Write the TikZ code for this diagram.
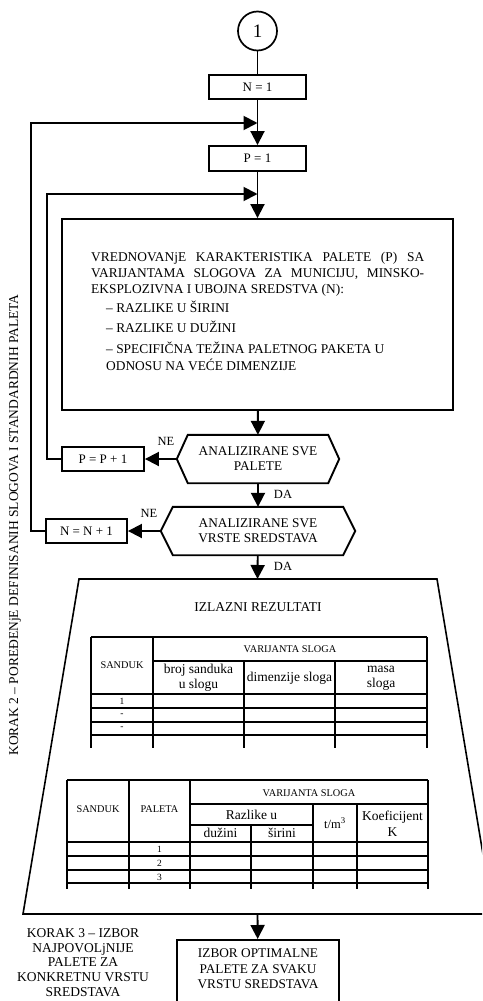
\documentclass[tikz,border=0pt]{standalone}
\usepackage{fontspec}
\setmainfont{Liberation Serif}
\usetikzlibrary{arrows.meta,calc}
\newcommand\myfs[2]{\fontsize{#1}{#2}\selectfont}
\tikzset{
 lw/.style={line width=1.9pt},
 boxn/.style={draw,line width=1.9pt,rectangle,inner sep=0pt,font=\myfs{13}{15}},
 txt/.style={inner sep=0pt,font=\myfs{13.4}{16}},
 arr/.style={line width=1.9pt,-{Triangle[length=14pt,width=14pt]}},
 tline/.style={line width=1.8pt},
 thead/.style={inner sep=0pt,font=\myfs{10.3}{12}},
 tlow/.style={inner sep=0pt,font=\myfs{13.5}{15},align=center},
 tnum/.style={inner sep=0pt,font=\myfs{9.5}{11}},
 lab/.style={inner sep=0pt,font=\myfs{12.5}{14}},
}
\begin{document}
\begin{tikzpicture}[x=1pt,y=-1pt]
\useasboundingbox (0,0) rectangle (482,1001);
\clip (0,0) rectangle (482,1001);
% top
\node[circle,draw,line width=1.7pt,minimum size=39pt,inner sep=0pt,font=\myfs{19}{20}] (c1) at (257.5,31) {1};
\node[boxn,minimum width=97pt,minimum height=24pt] (n1) at (257.5,87) {N = 1};
\node[boxn,minimum width=97pt,minimum height=25pt] (p1) at (257.5,158.5) {P = 1};
\node[boxn,minimum width=391pt,minimum height=191pt] (big) at (257.5,314.5) {};
\node[txt,anchor=base west] (b1) at (91,261) {\makebox[333pt][s]{VREDNOVANjE KARAKTERISTIKA PALETE (P) SA}};
\node[txt,anchor=base west] (b2) at (91,277) {\makebox[333pt][s]{VARIJANTAMA SLOGOVA ZA MUNICIJU, MINSKO-}};
\node[txt,anchor=base west] (b3) at (91,293) {EKSPLOZIVNA I UBOJNA SREDSTVA (N):};
\node[txt,anchor=base west] (b4) at (106,312) {– RAZLIKE U ŠIRINI};
\node[txt,anchor=base west] (b5) at (106,332) {– RAZLIKE U DUŽINI};
\node[txt,anchor=base west] (b6) at (106,353.5) {– SPECIFIČNA TEŽINA PALETNOG PAKETA U};
\node[txt,anchor=base west] (b7) at (106,370.5) {ODNOSU NA VEĆE DIMENZIJE};
% decisions
\node[txt,minimum width=162pt,minimum height=48pt,align=center,font=\myfs{13.3}{15}] (h1) at (258,459) {ANALIZIRANE SVE\\PALETE};
\draw[lw] (h1.west) -- ([xshift=11pt]h1.north west) -- ([xshift=-11pt]h1.north east) -- (h1.east) -- ([xshift=-11pt]h1.south east) -- ([xshift=11pt]h1.south west) -- cycle;
\node[boxn,minimum width=82pt,minimum height=24pt] (pp1) at (103,459) {P = P + 1};
\node[txt,minimum width=194pt,minimum height=48pt,align=center,font=\myfs{13.3}{15}] (h2) at (258,531) {ANALIZIRANE SVE\\VRSTE SREDSTAVA};
\draw[lw] (h2.west) -- ([xshift=12pt]h2.north west) -- ([xshift=-12pt]h2.north east) -- (h2.east) -- ([xshift=-12pt]h2.south east) -- ([xshift=12pt]h2.south west) -- cycle;
\node[boxn,minimum width=81pt,minimum height=24pt] (nn1) at (86.5,531) {N = N + 1};
\node[lab] (ne1) at (166,441) {NE};
\node[lab] (da1) at (283,494) {DA};
\node[lab] (ne2) at (149,513) {NE};
\node[lab] (da2) at (283,566) {DA};
% trapezoid
\coordinate (trtop) at (257.5,579);
\coordinate (trbot) at (257.5,914);
\draw[line width=1.6pt] (79,579) -- (437,579) -- (493,914) -- (23,914) -- cycle;
\node[txt,font=\myfs{13.5}{16}] (iz) at (258,607) {IZLAZNI REZULTATI};
% table 1
\draw[tline] (91,637) -- (427,637) (153,661) -- (427,661)
  (91,694) -- (427,694) (91,708) -- (427,708) (91,722) -- (427,722) (91,735) -- (427,735)
  (91,637) -- (91,748) (153,637) -- (153,748) (244,661) -- (244,748) (335,661) -- (335,748) (427,637) -- (427,748);
\node[thead] (t1s) at (122,665) {SANDUK};
\node[thead] (t1v) at (290,649) {VARIJANTA SLOGA};
\node[tlow] (t1b) at (198.5,678) {broj sanduka\\u slogu};
\node[tlow] (t1d) at (289.5,678) {dimenzije sloga};
\node[tlow] (t1m) at (381,678) {masa\\sloga};
\node[tnum] (t1r1) at (122,701) {1};
\node[tnum] (t1r2) at (122,715) {-};
\node[tnum] (t1r3) at (122,728) {-};
% table 2
\draw[tline] (67,780) -- (428,780) (190,804) -- (428,804) (190,825) -- (313,825)
  (67,842) -- (428,842) (67,856) -- (428,856) (67,870) -- (428,870) (67,883) -- (428,883)
  (67,780) -- (67,889) (129,780) -- (129,889) (190,780) -- (190,889) (251,825) -- (251,889)
  (313,804) -- (313,889) (357,804) -- (357,889) (428,780) -- (428,889);
\node[thead] (t2s) at (98,809) {SANDUK};
\node[thead] (t2p) at (159.5,809) {PALETA};
\node[thead] (t2v) at (309,793) {VARIJANTA SLOGA};
\node[tlow] (t2r) at (251.5,815) {Razlike u};
\node[tlow] (t2d) at (220.5,833) {dužini};
\node[tlow] (t2w) at (282,833) {širini};
\node[tlow,font=\myfs{12.5}{14}] (t2t) at (335,823) {t/m\textsuperscript{3}};
\node[tlow,font=\myfs{13.5}{16.5}] (t2k) at (392.5,823.5) {Koeficijent\\K};
\node[tnum] (t2n1) at (159.5,849) {1};
\node[tnum] (t2n2) at (159.5,863) {2};
\node[tnum] (t2n3) at (159.5,877) {3};
% bottom
\node[boxn,minimum width=162pt,minimum height=80pt,anchor=north] (fin) at (258,939) {};
\node[txt,align=center,font=\myfs{13.3}{15.5}] (fint) at (258,969) {IZBOR OPTIMALNE\\PALETE ZA SVAKU\\VRSTU SREDSTAVA};
\node[txt,align=center,font=\myfs{13.5}{14.8}] (k3) at (83,962.5) {KORAK 3 – IZBOR\\NAJPOVOLjNIJE\\PALETE ZA\\KONKRETNU VRSTU\\SREDSTAVA};
\node[txt,rotate=90,font=\myfs{13.5}{16}] (k2) at (15,525) {KORAK 2 – POREĐENjE DEFINISANIH SLOGOVA I STANDARDNIH PALETA};
% connectors
\coordinate (j1) at (257.5,123);
\coordinate (j2) at (257.5,194);
\coordinate (fb1) at (31,123);
\coordinate (fb2) at (47,194);
\draw[lw] (c1) -- (n1);
\draw[arr] (n1) -- (p1);
\draw[arr] (nn1.west) -| (fb1) -- (j1);
\draw[arr] (pp1.west) -| (fb2) -- (j2);
\draw[arr] (p1) -- (big);
\draw[arr] (big) -- (h1);
\draw[arr] (h1.west) -- (pp1.east);
\draw[arr] (h1) -- (h2);
\draw[arr] (h2.west) -- (nn1.east);
\draw[arr] (h2) -- (trtop);
\draw[arr] (trbot) -- (fin);
\end{tikzpicture}
\end{document}
